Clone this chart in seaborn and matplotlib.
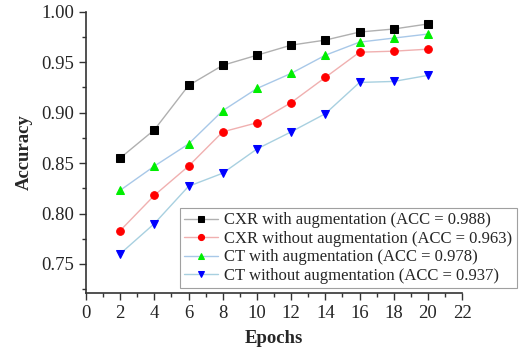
import matplotlib
matplotlib.use("Agg")
import matplotlib.pyplot as plt
import seaborn as sns
import pandas as pd
from matplotlib.ticker import MultipleLocator

epochs = [2, 4, 6, 8, 10, 12, 14, 16, 18, 20]
cxr_with = [0.855, 0.883, 0.927, 0.947, 0.957, 0.967, 0.972, 0.980, 0.983, 0.988]
cxr_without = [0.783, 0.818, 0.847, 0.881, 0.890, 0.910, 0.935, 0.960, 0.961, 0.963]
ct_with = [0.823, 0.847, 0.869, 0.902, 0.924, 0.939, 0.957, 0.970, 0.974, 0.978]
ct_without = [0.760, 0.790, 0.827, 0.840, 0.864, 0.881, 0.899, 0.930, 0.931, 0.937]
labels = ["CXR with augmentation (ACC = 0.988)",
          "CXR without augmentation (ACC = 0.963)",
          "CT with augmentation (ACC = 0.978)",
          "CT without augmentation (ACC = 0.937)"]

sns.set_style("ticks")
plt.rcParams['font.family'] = ['Liberation Serif', 'DejaVu Serif']

fig = plt.figure(figsize=(5.21, 3.49), dpi=100)
ax = fig.add_axes([0.165, 0.160, 0.722, 0.806])

series = [cxr_with, cxr_without, ct_with, ct_without]
markers = ["s", "o", "^", "v"]
mcolors = ["black", "red", "#00ee00", "blue"]
lcolors = ["#b0b0b0", "#f0b0b0", "#a8c8e8", "#a8d0e0"]
for vals, lab, m, mc, lc in zip(series, labels, markers, mcolors, lcolors):
    df = pd.DataFrame({"Epochs": epochs, "Accuracy": vals})
    sns.lineplot(data=df, x="Epochs", y="Accuracy", ax=ax, color=lc, lw=1.0,
                 marker=m, markersize=5.5, markerfacecolor=mc, markeredgecolor=mc,
                 label=lab)

ax.set_xlim(0, 22)
ax.set_ylim(0.721, 1.0)
ax.xaxis.set_major_locator(MultipleLocator(2))
ax.xaxis.set_minor_locator(MultipleLocator(1))
ax.yaxis.set_major_locator(MultipleLocator(0.05))
ax.yaxis.set_minor_locator(MultipleLocator(0.025))
ax.set_yticks([0.75, 0.80, 0.85, 0.90, 0.95, 1.00])
ax.set_yticklabels(["0.75", "0.80", "0.85", "0.90", "0.95", "1.00"])
ax.tick_params(axis="both", which="major", labelsize=13.5, direction="out", length=5, width=1, color="#333333")
ax.tick_params(axis="both", which="minor", direction="out", length=3, width=1, color="#333333")
for s in ["top", "right"]:
    ax.spines[s].set_visible(False)
for s in ["left", "bottom"]:
    ax.spines[s].set_linewidth(1.2)
    ax.spines[s].set_color("#333333")

ax.set_xlabel("Epochs", fontsize=13.5, fontweight="bold", labelpad=6)
ax.set_ylabel("Accuracy", fontsize=13.5, fontweight="bold", labelpad=6)

leg = ax.legend(loc="lower right", bbox_to_anchor=(1.158, 0.0), fontsize=12,
                frameon=True, fancybox=False, edgecolor="#888888",
                handlelength=2.0, handletextpad=0.4, borderpad=0.25, labelspacing=0.15,
                borderaxespad=0.3, markerscale=0.8)
leg.get_frame().set_linewidth(0.8)

fig.savefig("out.png", dpi=100)
